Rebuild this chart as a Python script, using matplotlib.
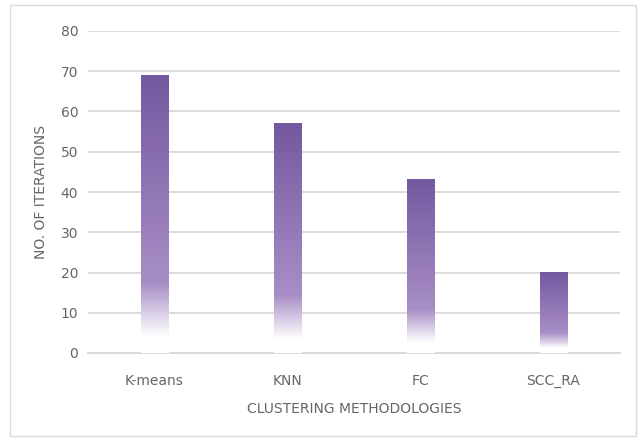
import matplotlib
matplotlib.use("Agg")
import matplotlib.pyplot as plt
import numpy as np
from matplotlib.patches import Rectangle

categories = ["K-means", "KNN", "FC", "SCC_RA"]
values = [69, 57, 43, 20]
yticks = [0, 10, 20, 30, 40, 50, 60, 70, 80]

plt.rcParams['font.family'] = ['Liberation Sans Narrow', 'DejaVu Sans']

fig = plt.figure(figsize=(6.41, 4.41), dpi=100)
ax = fig.add_axes([88/641, 1-353/441, 532/641, (353-31)/441])

# outer chart border
fig.patches.append(Rectangle((10/641, 5/441), 626/641, 431/441, transform=fig.transFigure,
                             fill=False, edgecolor='#d9d9d9', linewidth=1))

# gradient: top dark purple -> lighter purple -> white at bottom
n = 256
pos = np.linspace(0, 1, n)  # 0 = bottom, 1 = top
c_top = np.array([0x74, 0x58, 0xa0]) / 255
c_mid = np.array([0xa8, 0x8e, 0xc6]) / 255
white = np.array([1.0, 1.0, 1.0])
cols = np.zeros((n, 4))
for i, p in enumerate(pos):
    if p < 0.06:
        c = white
    elif p < 0.25:
        t = (p - 0.06) / 0.19
        c = white * (1 - t) + c_mid * t
    else:
        t = (p - 0.25) / 0.75
        c = c_mid * (1 - t) + c_top * t
    cols[i, :3] = c
    cols[i, 3] = 1
img = cols[:, None, :]

bw = 0.21
for i, v in enumerate(values):
    ax.imshow(img, extent=[i - bw/2, i + bw/2, 0, v], origin='lower',
              aspect='auto', zorder=3, interpolation='bilinear')
ax.set_aspect('auto')
ax.set_xlim(-0.5, len(categories) - 0.5)
ax.set_ylim(0, 80)

ax.set_yticks(yticks)
ax.set_xticks(range(len(categories)))
ax.set_xticklabels(categories)
ax.yaxis.grid(True, color='#d9d9d9', linewidth=1.3)
ax.set_axisbelow(True)
for s in ['top', 'right', 'left']:
    ax.spines[s].set_visible(False)
ax.spines['bottom'].set_color('#d9d9d9')
ax.spines['bottom'].set_linewidth(1.3)
ax.tick_params(axis='both', length=0, colors='#666666', labelsize=10)
ax.tick_params(axis='y', pad=7)
ax.tick_params(axis='x', pad=15)

ax.set_xlabel("CLUSTERING METHODOLOGIES", color='#666666', fontsize=10, labelpad=10)
ax.set_ylabel("NO. OF ITERATIONS", color='#666666', fontsize=10)
ax.yaxis.set_label_coords(-0.075, 0.5)

fig.savefig("out.png", dpi=100)
